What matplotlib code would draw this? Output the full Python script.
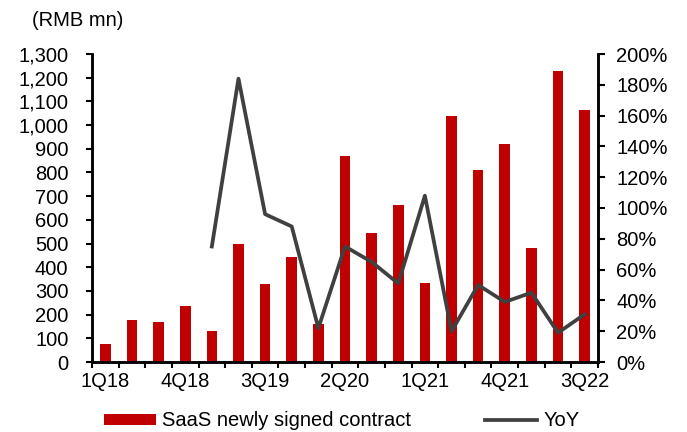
import numpy as np
import matplotlib
matplotlib.use("Agg")
import matplotlib.pyplot as plt
from matplotlib.patches import Patch
from matplotlib.lines import Line2D
from matplotlib.ticker import FuncFormatter, MultipleLocator

plt.rcParams['font.family'] = ['Liberation Sans', 'DejaVu Sans']

# quarterly data, 1Q18 - 3Q22
quarters = ['1Q18', '2Q18', '3Q18', '4Q18',
            '1Q19', '2Q19', '3Q19', '4Q19',
            '1Q20', '2Q20', '3Q20', '4Q20',
            '1Q21', '2Q21', '3Q21', '4Q21',
            '1Q22', '2Q22', '3Q22']
contract = [77, 178, 170, 236,
            132, 499, 330, 442,
            160, 871, 544, 663,
            333, 1038, 811, 919,
            481, 1229, 1064]
# YoY in %, no value for 2018
yoy = [np.nan, np.nan, np.nan, np.nan,
       75, 184, 96, 88,
       22, 75, 65, 51,
       108, 20, 50, 39,
       45, 19, 31]
label_every = 3

BAR_RED = '#C00000'
LINE_GREY = '#404040'
FS = 14.5

fig = plt.figure(figsize=(6.87, 4.32), dpi=100)
ax = fig.add_axes([92 / 687, 1 - 362 / 432, (598 - 92) / 687, (362 - 54) / 432])
ax2 = ax.twinx()

x = np.arange(len(quarters))
ax.bar(x, contract, width=0.4, color=BAR_RED, zorder=2)
ax2.plot(x, yoy, color=LINE_GREY, linewidth=2.7, zorder=3)

ax.set_xlim(-0.5, len(quarters) - 0.5)
ax.set_ylim(0, 1300)
ax2.set_ylim(0, 200)

# Excel-style: ticks at category boundaries, labels at centres
ax.set_xticks(np.arange(len(quarters) + 1) - 0.5)
ax.set_xticklabels([])
ax.set_xticks(x[::label_every], minor=True)
ax.set_xticklabels(quarters[::label_every], minor=True)
ax.tick_params(axis='x', which='major', length=4, width=1.5, direction='out')
ax.tick_params(axis='x', which='minor', length=0, pad=7, labelsize=FS)

ax.yaxis.set_major_locator(MultipleLocator(100))
ax.yaxis.set_major_formatter(FuncFormatter(lambda v, p: f'{int(v):,}'))
ax.tick_params(axis='y', length=4, width=1.5, labelsize=FS, pad=13)

ax2.yaxis.set_major_locator(MultipleLocator(20))
ax2.yaxis.set_major_formatter(FuncFormatter(lambda v, p: f'{int(v)}%'))
ax2.tick_params(axis='y', length=5, width=1.5, labelsize=FS, pad=8)

for a in (ax, ax2):
    a.spines['top'].set_visible(False)
    for s in ('left', 'right', 'bottom'):
        a.spines[s].set_linewidth(1.8)
        a.spines[s].set_color('black')

fig.text(32 / 687, 1 - 20 / 432, '(RMB mn)', fontsize=FS, va='center', ha='left')

handles = [Patch(facecolor=BAR_RED, edgecolor='none'),
           Line2D([], [], color=LINE_GREY, linewidth=2.7)]
fig.legend(handles, ['SaaS newly signed contract', 'YoY'],
           loc='center left', bbox_to_anchor=(104 / 687, 1 - 421 / 432), ncol=2,
           frameon=False, fontsize=FS, handlelength=2.6, handleheight=0.5,
           handletextpad=0.3, columnspacing=3.65, borderpad=0, borderaxespad=0)

fig.savefig('out.png', dpi=100)
